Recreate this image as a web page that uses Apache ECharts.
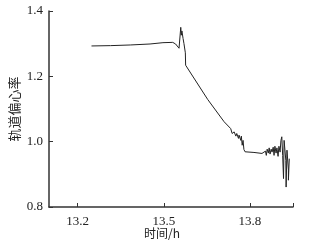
<!DOCTYPE html>
<html>
<head>
<meta charset="utf-8">
<script src="https://cdn.jsdelivr.net/npm/echarts@6/dist/echarts.min.js"></script>
<style>html,body{margin:0;padding:0;background:#fff}#c{width:336px;height:243px}</style>
</head>
<body>
<div id="c"></div>
<script>
const timeH = [13.248,13.314,13.383,13.452,13.497,13.531,13.541,13.553,13.559,13.561,13.563,13.567,13.570,13.575,13.576,13.653,13.710,13.733,
13.738,13.745,13.751,13.754,13.760,13.762,13.768,13.770,13.773,13.776,13.779,13.783,13.814,13.842,13.848,
13.854,13.857,13.860,13.864,13.867,13.870,13.874,13.877,13.881,13.884,13.887,13.891,13.894,13.898,13.901,13.905,13.908,13.911,13.914,13.917,13.919,13.923,13.925,13.926,13.929,13.932,13.934,13.934,13.937];
const eccentricity = [1.293,1.294,1.296,1.299,1.303,1.304,1.299,1.286,1.350,1.326,1.339,1.316,1.301,1.272,1.234,1.129,1.061,1.040,
1.025,1.030,1.017,1.025,1.010,1.020,1.004,1.017,0.989,1.004,0.976,0.969,0.967,0.964,0.958,
0.971,0.958,0.977,0.965,0.981,0.962,0.977,0.968,0.983,0.958,0.986,0.965,0.981,0.955,0.986,0.968,1.004,1.015,0.958,0.887,1.004,1.010,0.943,0.861,0.974,0.979,0.913,0.882,0.948];
const xTicks = [13.2,13.5,13.8,13.95];
const xLabels = [13.2,13.5,13.8];
const xName = '时间/h';
const yName = '轨道偏心率';

const chart = echarts.init(document.getElementById('c'));
const serif = '"Liberation Serif","Noto Sans CJK SC",serif';
chart.setOption({
  animation:false,
  grid:{left:49,right:43,top:11,bottom:36,outerBoundsMode:'none',containLabel:false},
  xAxis:{
    type:'value',min:13.1,max:13.95,
    name:xName,nameLocation:'middle',nameGap:20,nameMoveOverlap:false,
    nameTextStyle:{fontFamily:'"Noto Sans CJK SC",sans-serif',fontSize:12,color:'#222',padding:[0,18,0,0]},
    axisLine:{lineStyle:{color:'#333',width:1.5}},
    axisTick:{inside:true,length:4,customValues:xTicks,lineStyle:{color:'#333'}},
    axisLabel:{customValues:xLabels,margin:8,fontFamily:serif,fontSize:13,color:'#222',formatter:v=>v.toFixed(1)},
    splitLine:{show:false}
  },
  yAxis:{
    type:'value',min:0.8,max:1.4,interval:0.2,
    name:yName,nameLocation:'middle',nameGap:28,nameMoveOverlap:false,
    nameTextStyle:{fontFamily:'"Noto Sans CJK SC",sans-serif',fontSize:13,color:'#222'},
    axisLine:{show:true,lineStyle:{color:'#333',width:1.5}},
    axisTick:{show:true,inside:true,length:4,lineStyle:{color:'#333'}},
    axisLabel:{margin:6,fontFamily:serif,fontSize:13,color:'#222',formatter:v=>v.toFixed(1)},
    splitLine:{show:false}
  },
  series:[{
    type:'line',
    data:timeH.map((t,i)=>[t,eccentricity[i]]),
    showSymbol:false,
    lineStyle:{color:'#222',width:1}
  }]
});
</script>
</body>
</html>
